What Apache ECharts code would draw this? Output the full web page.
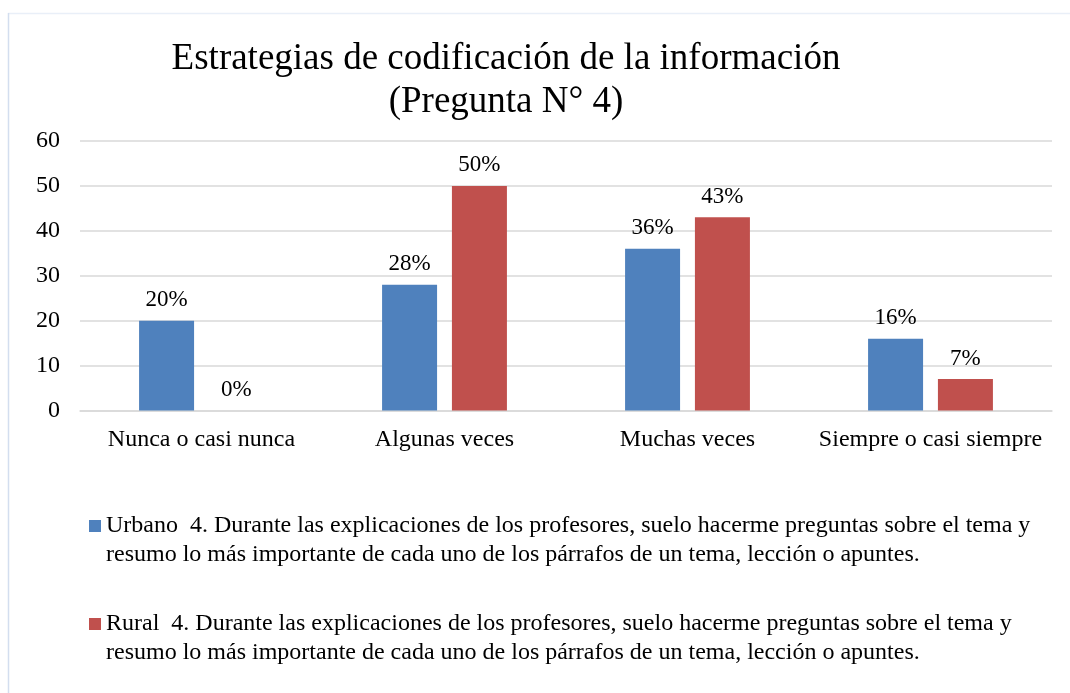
<!DOCTYPE html>
<html>
<head>
<meta charset="utf-8">
<script src="https://cdn.jsdelivr.net/npm/echarts@6/dist/echarts.min.js"></script>
<style>
html,body{margin:0;padding:0;background:#fff;}
#chart{width:1070px;height:693px;}
</style>
</head>
<body>
<div id="chart"></div>
<script>
const titleLines = ['Estrategias de codificación de la información', '(Pregunta N° 4)'];
const categories = ['Nunca o casi nunca', 'Algunas veces', 'Muchas veces', 'Siempre o casi siempre'];
const urbanoName = 'Urbano  4. Durante las explicaciones de los profesores, suelo hacerme preguntas sobre el tema y\nresumo lo más importante de cada uno de los párrafos de un tema, lección o apuntes.';
const ruralName = 'Rural  4. Durante las explicaciones de los profesores, suelo hacerme preguntas sobre el tema y\nresumo lo más importante de cada uno de los párrafos de un tema, lección o apuntes.';
const urbanoValues = [20, 28, 36, 16];
const ruralValues = [0, 50, 43, 7];
const yTicks = { min: 0, max: 60, interval: 10 };

const FONT = '"Liberation Serif", "Times New Roman", serif';
const TXT = '#000000';

const chart = echarts.init(document.getElementById('chart'));
const labelOpt = {
  show: true,
  position: 'top',
  distance: 9,
  formatter: p => p.value + '%',
  color: TXT,
  fontFamily: FONT,
  fontSize: 23
};
chart.setOption({
  animation: false,
  backgroundColor: '#ffffff',
  textStyle: { fontFamily: FONT, color: TXT },
  graphic: [
    { type: 'line', shape: { x1: 8, y1: 13.5, x2: 1070, y2: 13.5 }, style: { stroke: '#e9eff8', lineWidth: 1.5 }, silent: true },
    { type: 'line', shape: { x1: 8.5, y1: 13, x2: 8.5, y2: 693 }, style: { stroke: '#d3deef', lineWidth: 1.5 }, silent: true },
    {
      type: 'text', x: 506, y: 38, silent: true,
      style: {
        text: titleLines.join('\n'),
        x: 0, y: 0,
        textAlign: 'center',
        fill: TXT,
        font: '37px ' + FONT,
        lineHeight: 43
      }
    }
  ],
  grid: { left: 80, right: 18, top: 141, bottom: 282.5, containLabel: false },
  legend: {
    orient: 'vertical',
    left: 89,
    top: 482.5,
    padding: 0,
    itemGap: 11,
    itemWidth: 12,
    itemHeight: 12,
    itemStyle: { borderWidth: 0 },
    selectedMode: false,
    icon: 'rect',
    formatter: name => '\n' + name,
    textStyle: { fontFamily: FONT, fontSize: 24, color: TXT, lineHeight: 29 },
    data: [urbanoName, ruralName]
  },
  xAxis: {
    type: 'category',
    data: categories,
    axisTick: { show: false },
    axisLine: { lineStyle: { color: '#d9d9d9', width: 1.5 } },
    axisLabel: { color: TXT, fontFamily: FONT, fontSize: 24, margin: 17, interval: 0 }
  },
  yAxis: {
    type: 'value',
    min: yTicks.min, max: yTicks.max, interval: yTicks.interval,
    axisLine: { show: false },
    axisTick: { show: false },
    splitLine: { lineStyle: { color: '#d9d9d9', width: 1.5 } },
    axisLabel: { color: TXT, fontFamily: FONT, fontSize: 24, margin: 20 }
  },
  series: [
    { name: urbanoName, type: 'bar', data: urbanoValues, barWidth: 55, barGap: '27%', itemStyle: { color: '#4f81bd' }, label: labelOpt },
    { name: ruralName, type: 'bar', data: ruralValues, barWidth: 55, itemStyle: { color: '#c0504d' }, label: labelOpt }
  ]
});
</script>
</body>
</html>
